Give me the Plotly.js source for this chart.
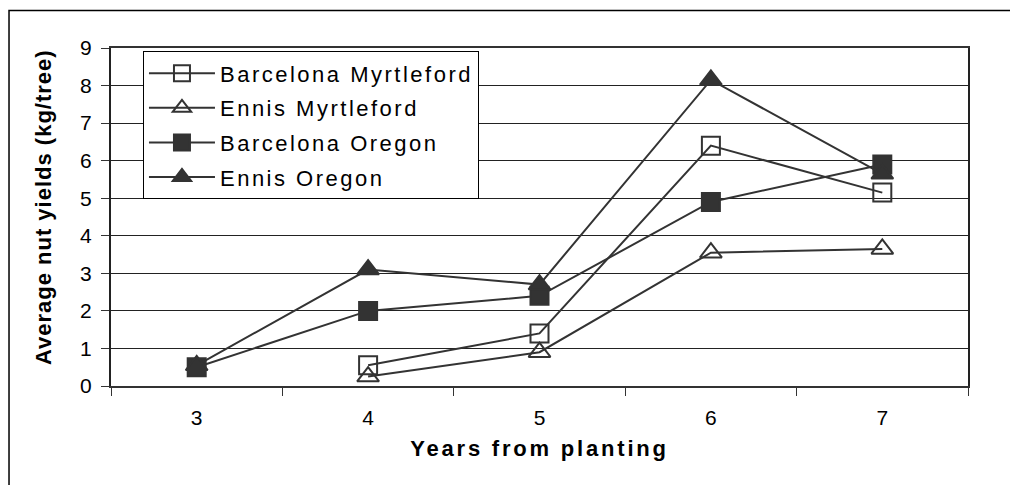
<!DOCTYPE html>
<html>
<head>
<meta charset="utf-8">
<script src="https://cdn.plot.ly/plotly-3.0.1.min.js"></script>
<style>
  html, body { margin: 0; padding: 0; background: #fff; }
  #chart { width: 1010px; height: 485px; }
  .legendtext { letter-spacing: 2.5px; }
  .xtitle { letter-spacing: 2.8px; }
  .annotation-text { letter-spacing: 1px; }
</style>
</head>
<body>
<div id="chart"></div>
<script>
const years = ['3', '4', '5', '6', '7'];
const barcelonaMyrtleford = [null, 0.55, 1.4, 6.4, 5.15];
const ennisMyrtleford = [null, 0.25, 0.9, 3.55, 3.65];
const barcelonaOregon = [0.5, 2.0, 2.4, 4.9, 5.9];
const ennisOregon = [0.55, 3.1, 2.7, 8.15, 5.65];
const seriesNames = ['Barcelona Myrtleford', 'Ennis Myrtleford', 'Barcelona Oregon', 'Ennis Oregon'];
const yTicks = [0, 1, 2, 3, 4, 5, 6, 7, 8, 9];
const xTitle = 'Years from planting';
const yTitle = 'Average nut yields (kg/tree)';

const ink = '#333333';
function series(name, values, symbol, group) {
  return {
    type: 'scatter', mode: 'lines+markers', name: name, x: years, y: values,
    legendgroup: group, connectgaps: false,
    line: { color: ink, width: 2 },
    marker: {
      symbol: symbol, size: symbol.indexOf('triangle') === 0 ? 19 : 18,
      color: ink,
      line: { color: ink, width: 2 }
    }
  };
}

const data = [
  series(seriesNames[0], barcelonaMyrtleford, 'square-open', 'g1'),
  series(seriesNames[1], ennisMyrtleford, 'triangle-up-open', 'g2'),
  series(seriesNames[2], barcelonaOregon, 'square', 'g3'),
  series(seriesNames[3], ennisOregon, 'triangle-up', 'g4')
];

const font = 'Liberation Sans, Arial, sans-serif';
const layout = {
  width: 1010, height: 485,
  margin: { l: 111, r: 42, t: 48, b: 99 },
  paper_bgcolor: '#ffffff', plot_bgcolor: '#ffffff',
  font: { family: font, color: '#000000', size: 21 },
  showlegend: true,
  legend: {
    x: 0.0373, y: 0.99, xanchor: 'left', yanchor: 'top',
    bgcolor: '#ffffff', bordercolor: '#000000', borderwidth: 1,
    font: { family: font, size: 22, color: '#000000' },
    itemwidth: 66, traceorder: 'grouped', tracegroupgap: 3,
    itemclick: false, itemdoubleclick: false
  },
  xaxis: {
    type: 'category', categoryorder: 'array', categoryarray: years,
    range: [-0.5, 4.5], tickson: 'boundaries',
    ticks: 'outside', ticklen: 8, tickwidth: 1, tickcolor: '#333333',
    showgrid: false, zeroline: false,
    showline: true, linecolor: '#333333', linewidth: 2, mirror: true,
    tickfont: { family: font, size: 21, color: '#000000' },
    ticklabelstandoff: 12,
    title: { text: '<b>' + xTitle + '</b>', standoff: 12,
             font: { family: font, size: 22, color: '#000000' } },
    fixedrange: true
  },
  yaxis: {
    range: [0, 9], tickvals: yTicks, ticktext: yTicks.map(String),
    ticks: 'outside', ticklen: 8, tickwidth: 1, tickcolor: '#333333',
    showgrid: true, gridcolor: '#222222', gridwidth: 1,
    zeroline: false,
    showline: true, linecolor: '#222222', linewidth: 2, mirror: true,
    tickfont: { family: font, size: 21, color: '#000000' },
    ticklabelstandoff: 5,
    fixedrange: true
  },
  annotations: [{
    text: '<b>' + yTitle + '</b>', textangle: -90,
    xref: 'paper', yref: 'paper', x: -0.0793, y: 0.5295,
    xanchor: 'center', yanchor: 'middle', showarrow: false,
    font: { family: font, size: 22, color: '#000000' }
  }],
  shapes: [{
    type: 'rect', xref: 'paper', yref: 'paper',
    x0: -0.119, x1: 1.06, y0: -0.32, y1: 1.111,
    line: { color: '#000000', width: 1.5 }, fillcolor: 'rgba(0,0,0,0)', layer: 'below'
  }]
};

Plotly.newPlot('chart', data, layout, { staticPlot: true, displayModeBar: false });
</script>
</body>
</html>
